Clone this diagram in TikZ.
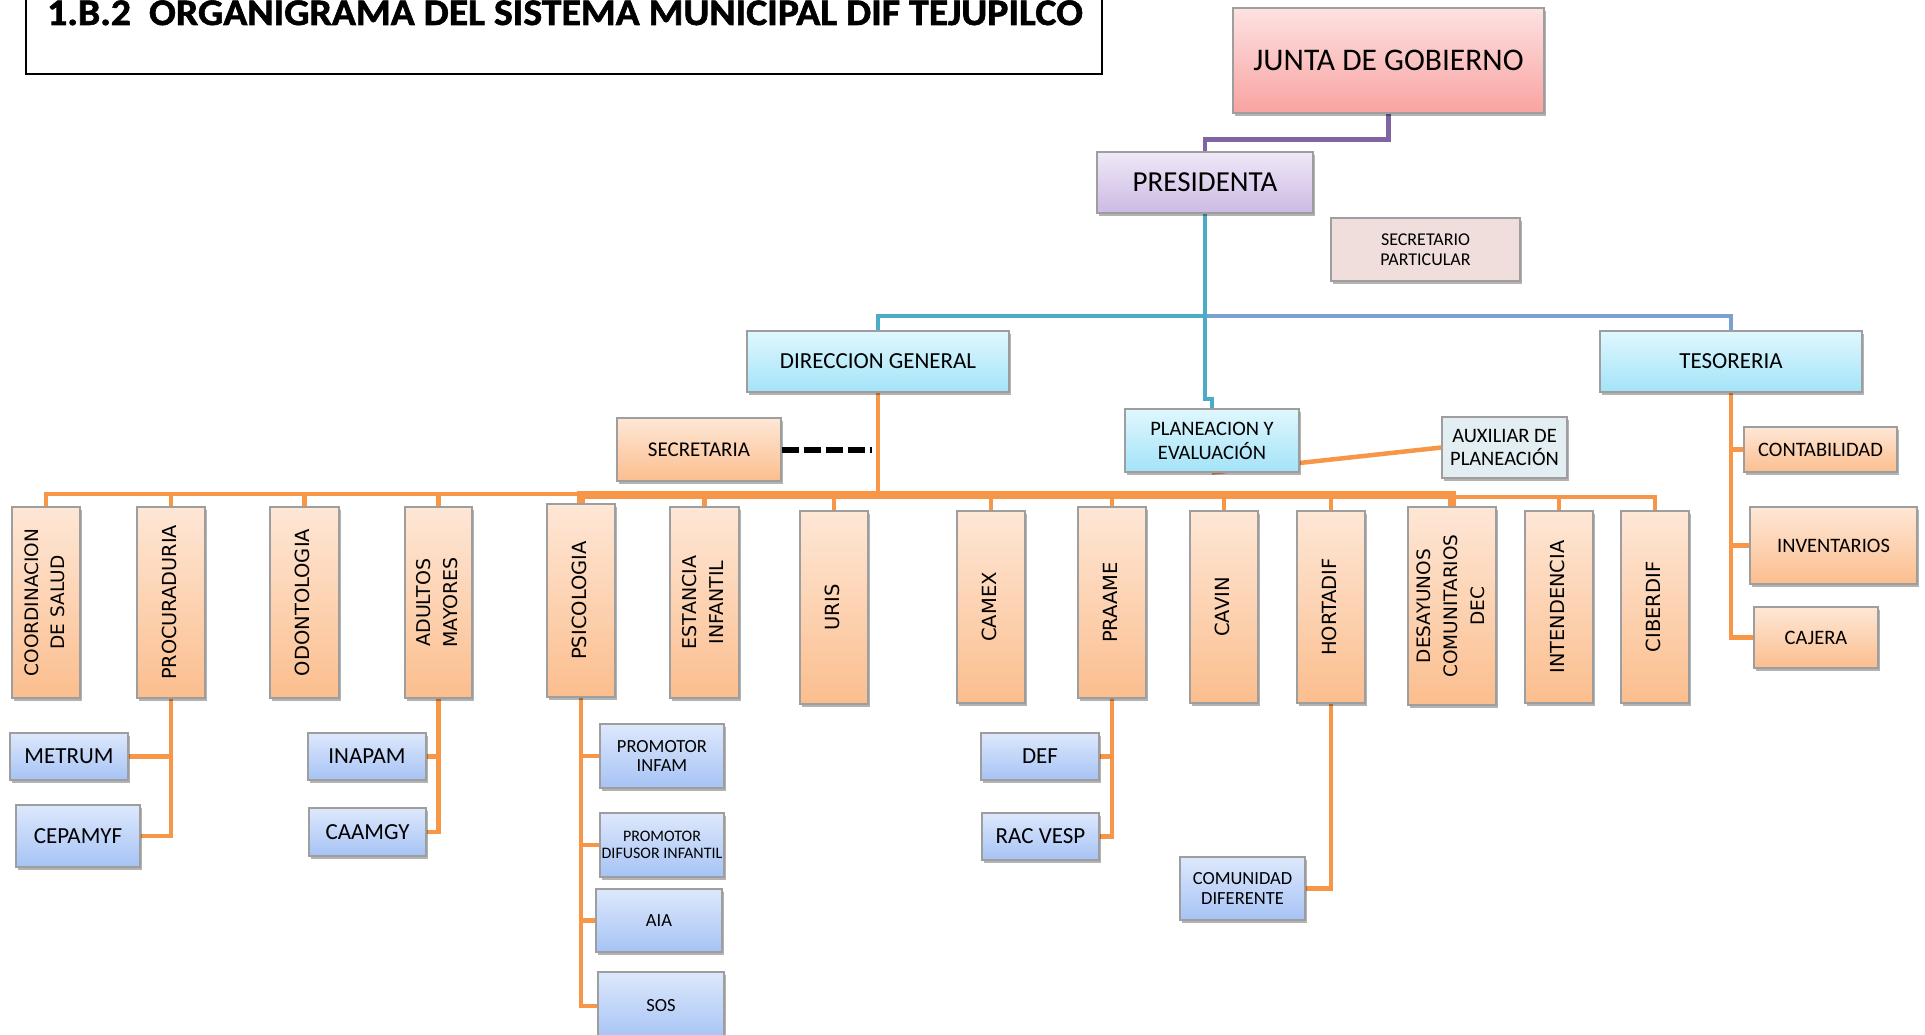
\documentclass[tikz,border=0pt]{standalone}
\usepackage{fontspec}
\usepackage{graphicx}
\setmainfont{Carlito}
\newfontfamily\vfont{DejaVu Sans}
\newfontfamily\tfont{Carlito}[BoldFeatures={FakeBold=1.5}]
\usetikzlibrary{shadows,calc}
\pgfdeclarelayer{bg}
\pgfsetlayers{bg,main}

\definecolor{orl}{RGB}{247,150,70}
\definecolor{purp}{RGB}{128,100,162}
\definecolor{tealc}{RGB}{75,172,198}
\definecolor{bluer}{RGB}{122,160,208}
\definecolor{pkT}{RGB}{253,226,226}
\definecolor{pkB}{RGB}{248,163,161}
\definecolor{lvT}{RGB}{240,232,248}
\definecolor{lvB}{RGB}{204,186,227}
\definecolor{spF}{RGB}{240,222,220}
\definecolor{cyT}{RGB}{224,247,254}
\definecolor{cyB}{RGB}{163,227,248}
\definecolor{axF}{RGB}{227,238,242}
\definecolor{orT}{RGB}{254,231,214}
\definecolor{orB}{RGB}{251,190,142}
\definecolor{blT}{RGB}{221,232,252}
\definecolor{blB}{RGB}{166,195,245}

\newcommand\orgbox[7]{%
  \node[#6, minimum width={(#4-#2)*1pt}, minimum height={(#5-#3)*1pt}] (#1) at ({(#2+#4)/2},{(#3+#5)/2}) {#7};}
\newcommand\vtxt[3]{\rotatebox{90}{\vfont\fontsize{#1}{#2}\selectfont\begin{tabular}{@{}c@{}}#3\end{tabular}}}

\tikzset{
  box/.style={draw=black!38, line width=1.1pt, inner sep=0pt, align=center,
    drop shadow={shadow xshift=1.5pt, shadow yshift=-3pt, opacity=0.3, fill=black}},
  orfill/.style={box, top color=orT, bottom color=orB},
  blfill/.style={box, top color=blT, bottom color=blB},
  cyfill/.style={box, top color=cyT, bottom color=cyB},
  vbox/.style={orfill},
  con/.style={draw=orl, line width=4.5pt},
  f31/.style={font=\fontsize{31.5}{36}\selectfont},
  f29/.style={font=\fontsize{29}{33}\selectfont},
  f23/.style={font=\fontsize{23}{27}\selectfont},
  f21/.style={font=\fontsize{21}{24}\selectfont},
  f20/.style={font=\fontsize{20.5}{24}\selectfont},
  f18/.style={font=\fontsize{18.5}{19.5}\selectfont},
  f16/.style={font=\fontsize{16}{17.7}\selectfont},
}

\begin{document}
\begin{tikzpicture}[x=1pt,y=-1pt]
\useasboundingbox (0,0) rectangle (1925,1035);

% title
\orgbox{tbox}{26}{-20}{1102}{74}{draw=black, line width=1.5pt}{}
\node[anchor=base west, inner sep=0pt] (title) at (47,25)
  {\scalebox{1.06}[1]{\tfont\fontsize{37.5}{40}\selectfont\bfseries 1.B.2\ \ ORGANIGRAMA DEL SISTEMA MUNICIPAL DIF TEJUPILCO}};

% top
\orgbox{junta}{1233}{8}{1544}{113}{box, top color=pkT, bottom color=pkB, f31}{JUNTA DE GOBIERNO}
\orgbox{pres}{1097}{152}{1313}{213}{box, top color=lvT, bottom color=lvB, f29}{PRESIDENTA}
\orgbox{secpart}{1331}{218}{1520}{281}{box, fill=spF, font=\fontsize{18}{20}\selectfont}{SECRETARIO\\PARTICULAR}
\orgbox{dg}{747}{331}{1009}{392}{cyfill, f23}{DIRECCION GENERAL}
\orgbox{tes}{1600}{331}{1862}{392}{cyfill, f23}{TESORERIA}
\orgbox{plan}{1125}{409}{1299}{472}{cyfill, f20}{PLANEACION Y\\EVALUACIÓN}
\orgbox{aux}{1442}{417}{1567}{478}{box, fill=axF, font=\fontsize{20.5}{23}\selectfont}{AUXILIAR DE\\PLANEACIÓN}
\orgbox{secr}{617}{418}{781}{481}{orfill, f21}{SECRETARIA}

% tesoreria children
\orgbox{contab}{1744}{427}{1897}{472}{orfill, f20}{CONTABILIDAD}
\orgbox{invent}{1750}{507}{1917}{584}{orfill, f20}{INVENTARIOS}
\orgbox{cajera}{1754}{607}{1878}{668}{orfill, f20}{CAJERA}

% vertical boxes
\orgbox{coord}{12}{507}{80}{698}{vbox}{\vtxt{18.5}{26.5}{COORDINACION\\DE SALUD}}
\orgbox{procu}{137}{507}{205}{698}{vbox}{\vtxt{19.3}{26.5}{PROCURADURIA}}
\orgbox{odont}{270}{507}{339}{698}{vbox}{\vtxt{19.5}{26.5}{ODONTOLOGIA}}
\orgbox{adult}{405}{507}{472}{698}{vbox}{\vtxt{19}{26.5}{ADULTOS\\MAYORES}}
\orgbox{psico}{547}{504}{615}{697}{vbox}{\vtxt{19.5}{26.5}{PSICOLOGIA}}
\orgbox{estan}{670}{507}{739}{698}{vbox}{\vtxt{19}{26.5}{ESTANCIA\\INFANTIL}}
\orgbox{uris}{800}{511}{868}{704}{vbox}{\vtxt{19.5}{26.5}{URIS}}
\orgbox{camex}{957}{511}{1025}{703}{vbox}{\vtxt{19.5}{26.5}{CAMEX}}
\orgbox{praame}{1078}{507}{1146}{698}{vbox}{\vtxt{19.5}{26.5}{PRAAME}}
\orgbox{cavin}{1190}{511}{1258}{703}{vbox}{\vtxt{19.5}{26.5}{CAVIN}}
\orgbox{hortadif}{1297}{511}{1365}{703}{vbox}{\vtxt{19.5}{26.5}{HORTADIF}}
\orgbox{desay}{1408}{507}{1496}{705}{vbox}{\vtxt{18.5}{27}{DESAYUNOS\\COMUNITARIOS\\DEC}}
\orgbox{intend}{1525}{511}{1593}{703}{vbox}{\vtxt{19.3}{26.5}{INTENDENCIA}}
\orgbox{ciber}{1621}{511}{1689}{703}{vbox}{\vtxt{19.5}{26.5}{CIBERDIF}}

% blue boxes
\orgbox{metrum}{10}{733}{128}{780}{blfill, f23}{METRUM}
\orgbox{cepamyf}{16}{805}{140}{867}{blfill, f23}{CEPAMYF}
\orgbox{inapam}{308}{733}{426}{780}{blfill, f23}{INAPAM}
\orgbox{caamgy}{309}{808}{426}{856}{blfill, f23}{CAAMGY}
\orgbox{prominf}{600}{724}{724}{788}{blfill, f18}{PROMOTOR\\INFAM}
\orgbox{promdif}{600}{813}{724}{877}{blfill, f16}{PROMOTOR\\DIFUSOR INFANTIL}
\orgbox{aia}{596}{889}{722}{952}{blfill, f18}{AIA}
\orgbox{sos}{598}{972}{724}{1040}{blfill, f18}{SOS}
\orgbox{def}{981}{733}{1099}{780}{blfill, f23}{DEF}
\orgbox{racvesp}{982}{813}{1099}{860}{blfill, f23}{RAC VESP}
\orgbox{comun}{1180}{857}{1305}{920}{blfill, f18}{COMUNIDAD\\DIFERENTE}

\begin{pgfonlayer}{bg}
\coordinate (hb) at (0,316);
\coordinate (busA) at (0,494);
\coordinate (busB) at (0,495);
\coordinate (busC) at (0,497);
% top connectors
\draw[draw=purp, line width=4.5pt] (junta.south) -- ++(0,26) -| (pres.north);
\draw[draw=tealc, line width=4pt] (pres.south) -- (pres.south |- hb) -| (dg.north);
\draw[draw=bluer, line width=4pt] (pres.south |- hb) -| (tes.north);
\draw[draw=tealc, line width=4pt] (pres.south) -- ++(0,185) -| (plan.north);
% planeacion - auxiliar
\draw[con] (plan.south) -- (aux.west);
% secretaria dashed
\draw[line width=6pt, dash pattern=on 17pt off 5pt] (secr.east) -- ($(secr.east -| dg.south)+(-6,0)$);
% direccion general bus
\draw[con] (dg.south) -- (dg.south |- busA) -| (coord.north);
\draw[con] (dg.south |- busA) -| (procu.north);
\draw[con] (dg.south |- busA) -| (odont.north);
\draw[con] (dg.south |- busA) -| (adult.north);
\draw[con, line width=8pt] (psico.north) |- (desay.north |- busB) -- (desay.north);
\draw[con] (estan.north) -- (estan.north |- busB);
\draw[con] (uris.north) -- (uris.north |- busB);
\draw[con] (camex.north) -- (camex.north |- busB);
\draw[con] (praame.north) -- (praame.north |- busB);
\draw[con] (cavin.north) -- (cavin.north |- busB);
\draw[con] (hortadif.north) -- (hortadif.north |- busB);
\draw[con] (desay.north |- busC) -| (ciber.north);
\draw[con] (intend.north) -- (intend.north |- busC);
% tesoreria
\draw[con] (tes.south) |- (cajera.west);
\draw[con] (tes.south |- contab.west) -- (contab.west);
\draw[con] (tes.south |- invent.west) -- (invent.west);
% sub-branches
\draw[con] (procu.south) |- (cepamyf.east);
\draw[con] (procu.south |- metrum.east) -- (metrum.east);
\draw[con] (adult.south) |- (caamgy.east);
\draw[con] (adult.south |- inapam.east) -- (inapam.east);
\draw[con] (psico.south) |- (sos.west);
\draw[con] (psico.south |- prominf.west) -- (prominf.west);
\draw[con] (psico.south |- promdif.west) -- (promdif.west);
\draw[con] (psico.south |- aia.west) -- (aia.west);
\draw[con] (praame.south) |- (racvesp.east);
\draw[con] (praame.south |- def.east) -- (def.east);
\draw[con] (hortadif.south) |- (comun.east);
\end{pgfonlayer}
\end{tikzpicture}
\end{document}
